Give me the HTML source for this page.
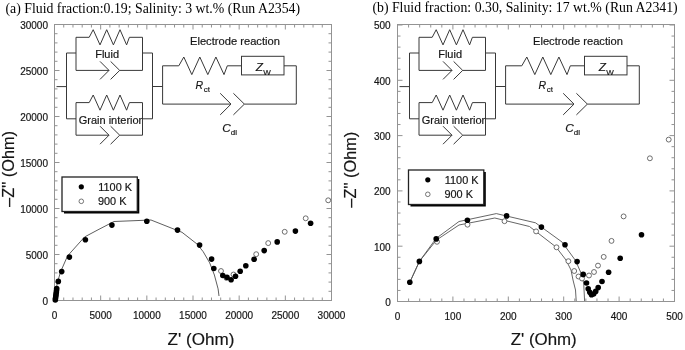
<!DOCTYPE html>
<html><head><meta charset="utf-8"><style>
html,body{margin:0;padding:0;background:#fff;}
body{width:685px;height:350px;overflow:hidden;position:relative;}
svg{position:absolute;left:0;top:0;filter:blur(0.35px);}
text{fill:#151515;stroke:#151515;stroke-width:0.18px;}
</style></head><body>
<svg width="685" height="350" viewBox="0 0 685 350">
<rect x="54.5" y="24.5" width="277.0" height="276.0" fill="none" stroke="#939393" stroke-width="1"/>
<line x1="54.50" y1="300.50" x2="54.50" y2="295.50" stroke="#939393" stroke-width="1"/>
<line x1="54.50" y1="24.50" x2="54.50" y2="29.50" stroke="#939393" stroke-width="1"/>
<line x1="63.73" y1="300.50" x2="63.73" y2="297.50" stroke="#939393" stroke-width="1"/>
<line x1="63.73" y1="24.50" x2="63.73" y2="27.50" stroke="#939393" stroke-width="1"/>
<line x1="72.97" y1="300.50" x2="72.97" y2="297.50" stroke="#939393" stroke-width="1"/>
<line x1="72.97" y1="24.50" x2="72.97" y2="27.50" stroke="#939393" stroke-width="1"/>
<line x1="82.20" y1="300.50" x2="82.20" y2="297.50" stroke="#939393" stroke-width="1"/>
<line x1="82.20" y1="24.50" x2="82.20" y2="27.50" stroke="#939393" stroke-width="1"/>
<line x1="91.43" y1="300.50" x2="91.43" y2="297.50" stroke="#939393" stroke-width="1"/>
<line x1="91.43" y1="24.50" x2="91.43" y2="27.50" stroke="#939393" stroke-width="1"/>
<line x1="100.67" y1="300.50" x2="100.67" y2="295.50" stroke="#939393" stroke-width="1"/>
<line x1="100.67" y1="24.50" x2="100.67" y2="29.50" stroke="#939393" stroke-width="1"/>
<line x1="109.90" y1="300.50" x2="109.90" y2="297.50" stroke="#939393" stroke-width="1"/>
<line x1="109.90" y1="24.50" x2="109.90" y2="27.50" stroke="#939393" stroke-width="1"/>
<line x1="119.13" y1="300.50" x2="119.13" y2="297.50" stroke="#939393" stroke-width="1"/>
<line x1="119.13" y1="24.50" x2="119.13" y2="27.50" stroke="#939393" stroke-width="1"/>
<line x1="128.37" y1="300.50" x2="128.37" y2="297.50" stroke="#939393" stroke-width="1"/>
<line x1="128.37" y1="24.50" x2="128.37" y2="27.50" stroke="#939393" stroke-width="1"/>
<line x1="137.60" y1="300.50" x2="137.60" y2="297.50" stroke="#939393" stroke-width="1"/>
<line x1="137.60" y1="24.50" x2="137.60" y2="27.50" stroke="#939393" stroke-width="1"/>
<line x1="146.83" y1="300.50" x2="146.83" y2="295.50" stroke="#939393" stroke-width="1"/>
<line x1="146.83" y1="24.50" x2="146.83" y2="29.50" stroke="#939393" stroke-width="1"/>
<line x1="156.07" y1="300.50" x2="156.07" y2="297.50" stroke="#939393" stroke-width="1"/>
<line x1="156.07" y1="24.50" x2="156.07" y2="27.50" stroke="#939393" stroke-width="1"/>
<line x1="165.30" y1="300.50" x2="165.30" y2="297.50" stroke="#939393" stroke-width="1"/>
<line x1="165.30" y1="24.50" x2="165.30" y2="27.50" stroke="#939393" stroke-width="1"/>
<line x1="174.53" y1="300.50" x2="174.53" y2="297.50" stroke="#939393" stroke-width="1"/>
<line x1="174.53" y1="24.50" x2="174.53" y2="27.50" stroke="#939393" stroke-width="1"/>
<line x1="183.77" y1="300.50" x2="183.77" y2="297.50" stroke="#939393" stroke-width="1"/>
<line x1="183.77" y1="24.50" x2="183.77" y2="27.50" stroke="#939393" stroke-width="1"/>
<line x1="193.00" y1="300.50" x2="193.00" y2="295.50" stroke="#939393" stroke-width="1"/>
<line x1="193.00" y1="24.50" x2="193.00" y2="29.50" stroke="#939393" stroke-width="1"/>
<line x1="202.23" y1="300.50" x2="202.23" y2="297.50" stroke="#939393" stroke-width="1"/>
<line x1="202.23" y1="24.50" x2="202.23" y2="27.50" stroke="#939393" stroke-width="1"/>
<line x1="211.47" y1="300.50" x2="211.47" y2="297.50" stroke="#939393" stroke-width="1"/>
<line x1="211.47" y1="24.50" x2="211.47" y2="27.50" stroke="#939393" stroke-width="1"/>
<line x1="220.70" y1="300.50" x2="220.70" y2="297.50" stroke="#939393" stroke-width="1"/>
<line x1="220.70" y1="24.50" x2="220.70" y2="27.50" stroke="#939393" stroke-width="1"/>
<line x1="229.93" y1="300.50" x2="229.93" y2="297.50" stroke="#939393" stroke-width="1"/>
<line x1="229.93" y1="24.50" x2="229.93" y2="27.50" stroke="#939393" stroke-width="1"/>
<line x1="239.17" y1="300.50" x2="239.17" y2="295.50" stroke="#939393" stroke-width="1"/>
<line x1="239.17" y1="24.50" x2="239.17" y2="29.50" stroke="#939393" stroke-width="1"/>
<line x1="248.40" y1="300.50" x2="248.40" y2="297.50" stroke="#939393" stroke-width="1"/>
<line x1="248.40" y1="24.50" x2="248.40" y2="27.50" stroke="#939393" stroke-width="1"/>
<line x1="257.63" y1="300.50" x2="257.63" y2="297.50" stroke="#939393" stroke-width="1"/>
<line x1="257.63" y1="24.50" x2="257.63" y2="27.50" stroke="#939393" stroke-width="1"/>
<line x1="266.87" y1="300.50" x2="266.87" y2="297.50" stroke="#939393" stroke-width="1"/>
<line x1="266.87" y1="24.50" x2="266.87" y2="27.50" stroke="#939393" stroke-width="1"/>
<line x1="276.10" y1="300.50" x2="276.10" y2="297.50" stroke="#939393" stroke-width="1"/>
<line x1="276.10" y1="24.50" x2="276.10" y2="27.50" stroke="#939393" stroke-width="1"/>
<line x1="285.33" y1="300.50" x2="285.33" y2="295.50" stroke="#939393" stroke-width="1"/>
<line x1="285.33" y1="24.50" x2="285.33" y2="29.50" stroke="#939393" stroke-width="1"/>
<line x1="294.57" y1="300.50" x2="294.57" y2="297.50" stroke="#939393" stroke-width="1"/>
<line x1="294.57" y1="24.50" x2="294.57" y2="27.50" stroke="#939393" stroke-width="1"/>
<line x1="303.80" y1="300.50" x2="303.80" y2="297.50" stroke="#939393" stroke-width="1"/>
<line x1="303.80" y1="24.50" x2="303.80" y2="27.50" stroke="#939393" stroke-width="1"/>
<line x1="313.03" y1="300.50" x2="313.03" y2="297.50" stroke="#939393" stroke-width="1"/>
<line x1="313.03" y1="24.50" x2="313.03" y2="27.50" stroke="#939393" stroke-width="1"/>
<line x1="322.27" y1="300.50" x2="322.27" y2="297.50" stroke="#939393" stroke-width="1"/>
<line x1="322.27" y1="24.50" x2="322.27" y2="27.50" stroke="#939393" stroke-width="1"/>
<line x1="331.50" y1="300.50" x2="331.50" y2="295.50" stroke="#939393" stroke-width="1"/>
<line x1="331.50" y1="24.50" x2="331.50" y2="29.50" stroke="#939393" stroke-width="1"/>
<line x1="54.50" y1="300.50" x2="59.50" y2="300.50" stroke="#939393" stroke-width="1"/>
<line x1="331.50" y1="300.50" x2="326.50" y2="300.50" stroke="#939393" stroke-width="1"/>
<line x1="54.50" y1="291.30" x2="57.50" y2="291.30" stroke="#939393" stroke-width="1"/>
<line x1="331.50" y1="291.30" x2="328.50" y2="291.30" stroke="#939393" stroke-width="1"/>
<line x1="54.50" y1="282.10" x2="57.50" y2="282.10" stroke="#939393" stroke-width="1"/>
<line x1="331.50" y1="282.10" x2="328.50" y2="282.10" stroke="#939393" stroke-width="1"/>
<line x1="54.50" y1="272.90" x2="57.50" y2="272.90" stroke="#939393" stroke-width="1"/>
<line x1="331.50" y1="272.90" x2="328.50" y2="272.90" stroke="#939393" stroke-width="1"/>
<line x1="54.50" y1="263.70" x2="57.50" y2="263.70" stroke="#939393" stroke-width="1"/>
<line x1="331.50" y1="263.70" x2="328.50" y2="263.70" stroke="#939393" stroke-width="1"/>
<line x1="54.50" y1="254.50" x2="59.50" y2="254.50" stroke="#939393" stroke-width="1"/>
<line x1="331.50" y1="254.50" x2="326.50" y2="254.50" stroke="#939393" stroke-width="1"/>
<line x1="54.50" y1="245.30" x2="57.50" y2="245.30" stroke="#939393" stroke-width="1"/>
<line x1="331.50" y1="245.30" x2="328.50" y2="245.30" stroke="#939393" stroke-width="1"/>
<line x1="54.50" y1="236.10" x2="57.50" y2="236.10" stroke="#939393" stroke-width="1"/>
<line x1="331.50" y1="236.10" x2="328.50" y2="236.10" stroke="#939393" stroke-width="1"/>
<line x1="54.50" y1="226.90" x2="57.50" y2="226.90" stroke="#939393" stroke-width="1"/>
<line x1="331.50" y1="226.90" x2="328.50" y2="226.90" stroke="#939393" stroke-width="1"/>
<line x1="54.50" y1="217.70" x2="57.50" y2="217.70" stroke="#939393" stroke-width="1"/>
<line x1="331.50" y1="217.70" x2="328.50" y2="217.70" stroke="#939393" stroke-width="1"/>
<line x1="54.50" y1="208.50" x2="59.50" y2="208.50" stroke="#939393" stroke-width="1"/>
<line x1="331.50" y1="208.50" x2="326.50" y2="208.50" stroke="#939393" stroke-width="1"/>
<line x1="54.50" y1="199.30" x2="57.50" y2="199.30" stroke="#939393" stroke-width="1"/>
<line x1="331.50" y1="199.30" x2="328.50" y2="199.30" stroke="#939393" stroke-width="1"/>
<line x1="54.50" y1="190.10" x2="57.50" y2="190.10" stroke="#939393" stroke-width="1"/>
<line x1="331.50" y1="190.10" x2="328.50" y2="190.10" stroke="#939393" stroke-width="1"/>
<line x1="54.50" y1="180.90" x2="57.50" y2="180.90" stroke="#939393" stroke-width="1"/>
<line x1="331.50" y1="180.90" x2="328.50" y2="180.90" stroke="#939393" stroke-width="1"/>
<line x1="54.50" y1="171.70" x2="57.50" y2="171.70" stroke="#939393" stroke-width="1"/>
<line x1="331.50" y1="171.70" x2="328.50" y2="171.70" stroke="#939393" stroke-width="1"/>
<line x1="54.50" y1="162.50" x2="59.50" y2="162.50" stroke="#939393" stroke-width="1"/>
<line x1="331.50" y1="162.50" x2="326.50" y2="162.50" stroke="#939393" stroke-width="1"/>
<line x1="54.50" y1="153.30" x2="57.50" y2="153.30" stroke="#939393" stroke-width="1"/>
<line x1="331.50" y1="153.30" x2="328.50" y2="153.30" stroke="#939393" stroke-width="1"/>
<line x1="54.50" y1="144.10" x2="57.50" y2="144.10" stroke="#939393" stroke-width="1"/>
<line x1="331.50" y1="144.10" x2="328.50" y2="144.10" stroke="#939393" stroke-width="1"/>
<line x1="54.50" y1="134.90" x2="57.50" y2="134.90" stroke="#939393" stroke-width="1"/>
<line x1="331.50" y1="134.90" x2="328.50" y2="134.90" stroke="#939393" stroke-width="1"/>
<line x1="54.50" y1="125.70" x2="57.50" y2="125.70" stroke="#939393" stroke-width="1"/>
<line x1="331.50" y1="125.70" x2="328.50" y2="125.70" stroke="#939393" stroke-width="1"/>
<line x1="54.50" y1="116.50" x2="59.50" y2="116.50" stroke="#939393" stroke-width="1"/>
<line x1="331.50" y1="116.50" x2="326.50" y2="116.50" stroke="#939393" stroke-width="1"/>
<line x1="54.50" y1="107.30" x2="57.50" y2="107.30" stroke="#939393" stroke-width="1"/>
<line x1="331.50" y1="107.30" x2="328.50" y2="107.30" stroke="#939393" stroke-width="1"/>
<line x1="54.50" y1="98.10" x2="57.50" y2="98.10" stroke="#939393" stroke-width="1"/>
<line x1="331.50" y1="98.10" x2="328.50" y2="98.10" stroke="#939393" stroke-width="1"/>
<line x1="54.50" y1="88.90" x2="57.50" y2="88.90" stroke="#939393" stroke-width="1"/>
<line x1="331.50" y1="88.90" x2="328.50" y2="88.90" stroke="#939393" stroke-width="1"/>
<line x1="54.50" y1="79.70" x2="57.50" y2="79.70" stroke="#939393" stroke-width="1"/>
<line x1="331.50" y1="79.70" x2="328.50" y2="79.70" stroke="#939393" stroke-width="1"/>
<line x1="54.50" y1="70.50" x2="59.50" y2="70.50" stroke="#939393" stroke-width="1"/>
<line x1="331.50" y1="70.50" x2="326.50" y2="70.50" stroke="#939393" stroke-width="1"/>
<line x1="54.50" y1="61.30" x2="57.50" y2="61.30" stroke="#939393" stroke-width="1"/>
<line x1="331.50" y1="61.30" x2="328.50" y2="61.30" stroke="#939393" stroke-width="1"/>
<line x1="54.50" y1="52.10" x2="57.50" y2="52.10" stroke="#939393" stroke-width="1"/>
<line x1="331.50" y1="52.10" x2="328.50" y2="52.10" stroke="#939393" stroke-width="1"/>
<line x1="54.50" y1="42.90" x2="57.50" y2="42.90" stroke="#939393" stroke-width="1"/>
<line x1="331.50" y1="42.90" x2="328.50" y2="42.90" stroke="#939393" stroke-width="1"/>
<line x1="54.50" y1="33.70" x2="57.50" y2="33.70" stroke="#939393" stroke-width="1"/>
<line x1="331.50" y1="33.70" x2="328.50" y2="33.70" stroke="#939393" stroke-width="1"/>
<line x1="54.50" y1="24.50" x2="59.50" y2="24.50" stroke="#939393" stroke-width="1"/>
<line x1="331.50" y1="24.50" x2="326.50" y2="24.50" stroke="#939393" stroke-width="1"/>
<rect x="397.5" y="24.5" width="277.0" height="277.0" fill="none" stroke="#939393" stroke-width="1"/>
<line x1="397.50" y1="301.50" x2="397.50" y2="296.50" stroke="#939393" stroke-width="1"/>
<line x1="397.50" y1="24.50" x2="397.50" y2="29.50" stroke="#939393" stroke-width="1"/>
<line x1="408.58" y1="301.50" x2="408.58" y2="298.50" stroke="#939393" stroke-width="1"/>
<line x1="408.58" y1="24.50" x2="408.58" y2="27.50" stroke="#939393" stroke-width="1"/>
<line x1="419.66" y1="301.50" x2="419.66" y2="298.50" stroke="#939393" stroke-width="1"/>
<line x1="419.66" y1="24.50" x2="419.66" y2="27.50" stroke="#939393" stroke-width="1"/>
<line x1="430.74" y1="301.50" x2="430.74" y2="298.50" stroke="#939393" stroke-width="1"/>
<line x1="430.74" y1="24.50" x2="430.74" y2="27.50" stroke="#939393" stroke-width="1"/>
<line x1="441.82" y1="301.50" x2="441.82" y2="298.50" stroke="#939393" stroke-width="1"/>
<line x1="441.82" y1="24.50" x2="441.82" y2="27.50" stroke="#939393" stroke-width="1"/>
<line x1="452.90" y1="301.50" x2="452.90" y2="296.50" stroke="#939393" stroke-width="1"/>
<line x1="452.90" y1="24.50" x2="452.90" y2="29.50" stroke="#939393" stroke-width="1"/>
<line x1="463.98" y1="301.50" x2="463.98" y2="298.50" stroke="#939393" stroke-width="1"/>
<line x1="463.98" y1="24.50" x2="463.98" y2="27.50" stroke="#939393" stroke-width="1"/>
<line x1="475.06" y1="301.50" x2="475.06" y2="298.50" stroke="#939393" stroke-width="1"/>
<line x1="475.06" y1="24.50" x2="475.06" y2="27.50" stroke="#939393" stroke-width="1"/>
<line x1="486.14" y1="301.50" x2="486.14" y2="298.50" stroke="#939393" stroke-width="1"/>
<line x1="486.14" y1="24.50" x2="486.14" y2="27.50" stroke="#939393" stroke-width="1"/>
<line x1="497.22" y1="301.50" x2="497.22" y2="298.50" stroke="#939393" stroke-width="1"/>
<line x1="497.22" y1="24.50" x2="497.22" y2="27.50" stroke="#939393" stroke-width="1"/>
<line x1="508.30" y1="301.50" x2="508.30" y2="296.50" stroke="#939393" stroke-width="1"/>
<line x1="508.30" y1="24.50" x2="508.30" y2="29.50" stroke="#939393" stroke-width="1"/>
<line x1="519.38" y1="301.50" x2="519.38" y2="298.50" stroke="#939393" stroke-width="1"/>
<line x1="519.38" y1="24.50" x2="519.38" y2="27.50" stroke="#939393" stroke-width="1"/>
<line x1="530.46" y1="301.50" x2="530.46" y2="298.50" stroke="#939393" stroke-width="1"/>
<line x1="530.46" y1="24.50" x2="530.46" y2="27.50" stroke="#939393" stroke-width="1"/>
<line x1="541.54" y1="301.50" x2="541.54" y2="298.50" stroke="#939393" stroke-width="1"/>
<line x1="541.54" y1="24.50" x2="541.54" y2="27.50" stroke="#939393" stroke-width="1"/>
<line x1="552.62" y1="301.50" x2="552.62" y2="298.50" stroke="#939393" stroke-width="1"/>
<line x1="552.62" y1="24.50" x2="552.62" y2="27.50" stroke="#939393" stroke-width="1"/>
<line x1="563.70" y1="301.50" x2="563.70" y2="296.50" stroke="#939393" stroke-width="1"/>
<line x1="563.70" y1="24.50" x2="563.70" y2="29.50" stroke="#939393" stroke-width="1"/>
<line x1="574.78" y1="301.50" x2="574.78" y2="298.50" stroke="#939393" stroke-width="1"/>
<line x1="574.78" y1="24.50" x2="574.78" y2="27.50" stroke="#939393" stroke-width="1"/>
<line x1="585.86" y1="301.50" x2="585.86" y2="298.50" stroke="#939393" stroke-width="1"/>
<line x1="585.86" y1="24.50" x2="585.86" y2="27.50" stroke="#939393" stroke-width="1"/>
<line x1="596.94" y1="301.50" x2="596.94" y2="298.50" stroke="#939393" stroke-width="1"/>
<line x1="596.94" y1="24.50" x2="596.94" y2="27.50" stroke="#939393" stroke-width="1"/>
<line x1="608.02" y1="301.50" x2="608.02" y2="298.50" stroke="#939393" stroke-width="1"/>
<line x1="608.02" y1="24.50" x2="608.02" y2="27.50" stroke="#939393" stroke-width="1"/>
<line x1="619.10" y1="301.50" x2="619.10" y2="296.50" stroke="#939393" stroke-width="1"/>
<line x1="619.10" y1="24.50" x2="619.10" y2="29.50" stroke="#939393" stroke-width="1"/>
<line x1="630.18" y1="301.50" x2="630.18" y2="298.50" stroke="#939393" stroke-width="1"/>
<line x1="630.18" y1="24.50" x2="630.18" y2="27.50" stroke="#939393" stroke-width="1"/>
<line x1="641.26" y1="301.50" x2="641.26" y2="298.50" stroke="#939393" stroke-width="1"/>
<line x1="641.26" y1="24.50" x2="641.26" y2="27.50" stroke="#939393" stroke-width="1"/>
<line x1="652.34" y1="301.50" x2="652.34" y2="298.50" stroke="#939393" stroke-width="1"/>
<line x1="652.34" y1="24.50" x2="652.34" y2="27.50" stroke="#939393" stroke-width="1"/>
<line x1="663.42" y1="301.50" x2="663.42" y2="298.50" stroke="#939393" stroke-width="1"/>
<line x1="663.42" y1="24.50" x2="663.42" y2="27.50" stroke="#939393" stroke-width="1"/>
<line x1="674.50" y1="301.50" x2="674.50" y2="296.50" stroke="#939393" stroke-width="1"/>
<line x1="674.50" y1="24.50" x2="674.50" y2="29.50" stroke="#939393" stroke-width="1"/>
<line x1="397.50" y1="301.50" x2="402.50" y2="301.50" stroke="#939393" stroke-width="1"/>
<line x1="674.50" y1="301.50" x2="669.50" y2="301.50" stroke="#939393" stroke-width="1"/>
<line x1="397.50" y1="290.44" x2="400.50" y2="290.44" stroke="#939393" stroke-width="1"/>
<line x1="674.50" y1="290.44" x2="671.50" y2="290.44" stroke="#939393" stroke-width="1"/>
<line x1="397.50" y1="279.38" x2="400.50" y2="279.38" stroke="#939393" stroke-width="1"/>
<line x1="674.50" y1="279.38" x2="671.50" y2="279.38" stroke="#939393" stroke-width="1"/>
<line x1="397.50" y1="268.32" x2="400.50" y2="268.32" stroke="#939393" stroke-width="1"/>
<line x1="674.50" y1="268.32" x2="671.50" y2="268.32" stroke="#939393" stroke-width="1"/>
<line x1="397.50" y1="257.26" x2="400.50" y2="257.26" stroke="#939393" stroke-width="1"/>
<line x1="674.50" y1="257.26" x2="671.50" y2="257.26" stroke="#939393" stroke-width="1"/>
<line x1="397.50" y1="246.20" x2="402.50" y2="246.20" stroke="#939393" stroke-width="1"/>
<line x1="674.50" y1="246.20" x2="669.50" y2="246.20" stroke="#939393" stroke-width="1"/>
<line x1="397.50" y1="235.14" x2="400.50" y2="235.14" stroke="#939393" stroke-width="1"/>
<line x1="674.50" y1="235.14" x2="671.50" y2="235.14" stroke="#939393" stroke-width="1"/>
<line x1="397.50" y1="224.08" x2="400.50" y2="224.08" stroke="#939393" stroke-width="1"/>
<line x1="674.50" y1="224.08" x2="671.50" y2="224.08" stroke="#939393" stroke-width="1"/>
<line x1="397.50" y1="213.02" x2="400.50" y2="213.02" stroke="#939393" stroke-width="1"/>
<line x1="674.50" y1="213.02" x2="671.50" y2="213.02" stroke="#939393" stroke-width="1"/>
<line x1="397.50" y1="201.96" x2="400.50" y2="201.96" stroke="#939393" stroke-width="1"/>
<line x1="674.50" y1="201.96" x2="671.50" y2="201.96" stroke="#939393" stroke-width="1"/>
<line x1="397.50" y1="190.90" x2="402.50" y2="190.90" stroke="#939393" stroke-width="1"/>
<line x1="674.50" y1="190.90" x2="669.50" y2="190.90" stroke="#939393" stroke-width="1"/>
<line x1="397.50" y1="179.84" x2="400.50" y2="179.84" stroke="#939393" stroke-width="1"/>
<line x1="674.50" y1="179.84" x2="671.50" y2="179.84" stroke="#939393" stroke-width="1"/>
<line x1="397.50" y1="168.78" x2="400.50" y2="168.78" stroke="#939393" stroke-width="1"/>
<line x1="674.50" y1="168.78" x2="671.50" y2="168.78" stroke="#939393" stroke-width="1"/>
<line x1="397.50" y1="157.72" x2="400.50" y2="157.72" stroke="#939393" stroke-width="1"/>
<line x1="674.50" y1="157.72" x2="671.50" y2="157.72" stroke="#939393" stroke-width="1"/>
<line x1="397.50" y1="146.66" x2="400.50" y2="146.66" stroke="#939393" stroke-width="1"/>
<line x1="674.50" y1="146.66" x2="671.50" y2="146.66" stroke="#939393" stroke-width="1"/>
<line x1="397.50" y1="135.60" x2="402.50" y2="135.60" stroke="#939393" stroke-width="1"/>
<line x1="674.50" y1="135.60" x2="669.50" y2="135.60" stroke="#939393" stroke-width="1"/>
<line x1="397.50" y1="124.54" x2="400.50" y2="124.54" stroke="#939393" stroke-width="1"/>
<line x1="674.50" y1="124.54" x2="671.50" y2="124.54" stroke="#939393" stroke-width="1"/>
<line x1="397.50" y1="113.48" x2="400.50" y2="113.48" stroke="#939393" stroke-width="1"/>
<line x1="674.50" y1="113.48" x2="671.50" y2="113.48" stroke="#939393" stroke-width="1"/>
<line x1="397.50" y1="102.42" x2="400.50" y2="102.42" stroke="#939393" stroke-width="1"/>
<line x1="674.50" y1="102.42" x2="671.50" y2="102.42" stroke="#939393" stroke-width="1"/>
<line x1="397.50" y1="91.36" x2="400.50" y2="91.36" stroke="#939393" stroke-width="1"/>
<line x1="674.50" y1="91.36" x2="671.50" y2="91.36" stroke="#939393" stroke-width="1"/>
<line x1="397.50" y1="80.30" x2="402.50" y2="80.30" stroke="#939393" stroke-width="1"/>
<line x1="674.50" y1="80.30" x2="669.50" y2="80.30" stroke="#939393" stroke-width="1"/>
<line x1="397.50" y1="69.24" x2="400.50" y2="69.24" stroke="#939393" stroke-width="1"/>
<line x1="674.50" y1="69.24" x2="671.50" y2="69.24" stroke="#939393" stroke-width="1"/>
<line x1="397.50" y1="58.18" x2="400.50" y2="58.18" stroke="#939393" stroke-width="1"/>
<line x1="674.50" y1="58.18" x2="671.50" y2="58.18" stroke="#939393" stroke-width="1"/>
<line x1="397.50" y1="47.12" x2="400.50" y2="47.12" stroke="#939393" stroke-width="1"/>
<line x1="674.50" y1="47.12" x2="671.50" y2="47.12" stroke="#939393" stroke-width="1"/>
<line x1="397.50" y1="36.06" x2="400.50" y2="36.06" stroke="#939393" stroke-width="1"/>
<line x1="674.50" y1="36.06" x2="671.50" y2="36.06" stroke="#939393" stroke-width="1"/>
<line x1="397.50" y1="25.00" x2="402.50" y2="25.00" stroke="#939393" stroke-width="1"/>
<line x1="674.50" y1="25.00" x2="669.50" y2="25.00" stroke="#939393" stroke-width="1"/>
<text x="48" y="304.5" font-size="10" text-anchor="end" font-family="Liberation Sans" >0</text>
<text x="54.5" y="319.0" font-size="10" text-anchor="middle" font-family="Liberation Sans" >0</text>
<text x="48" y="258.5" font-size="10" text-anchor="end" font-family="Liberation Sans" >5000</text>
<text x="100.66666666666666" y="319.0" font-size="10" text-anchor="middle" font-family="Liberation Sans" >5000</text>
<text x="48" y="212.5" font-size="10" text-anchor="end" font-family="Liberation Sans" >10000</text>
<text x="146.83333333333331" y="319.0" font-size="10" text-anchor="middle" font-family="Liberation Sans" >10000</text>
<text x="48" y="166.5" font-size="10" text-anchor="end" font-family="Liberation Sans" >15000</text>
<text x="193.0" y="319.0" font-size="10" text-anchor="middle" font-family="Liberation Sans" >15000</text>
<text x="48" y="120.5" font-size="10" text-anchor="end" font-family="Liberation Sans" >20000</text>
<text x="239.16666666666666" y="319.0" font-size="10" text-anchor="middle" font-family="Liberation Sans" >20000</text>
<text x="48" y="74.5" font-size="10" text-anchor="end" font-family="Liberation Sans" >25000</text>
<text x="285.33333333333337" y="319.0" font-size="10" text-anchor="middle" font-family="Liberation Sans" >25000</text>
<text x="48" y="28.5" font-size="10" text-anchor="end" font-family="Liberation Sans" >30000</text>
<text x="331.5" y="319.0" font-size="10" text-anchor="middle" font-family="Liberation Sans" >30000</text>
<text x="390.7" y="305.9" font-size="10" text-anchor="end" font-family="Liberation Sans" >0</text>
<text x="397.5" y="320.3" font-size="10" text-anchor="middle" font-family="Liberation Sans" >0</text>
<text x="390.7" y="250.6" font-size="10" text-anchor="end" font-family="Liberation Sans" >100</text>
<text x="452.9" y="320.3" font-size="10" text-anchor="middle" font-family="Liberation Sans" >100</text>
<text x="390.7" y="195.3" font-size="10" text-anchor="end" font-family="Liberation Sans" >200</text>
<text x="508.3" y="320.3" font-size="10" text-anchor="middle" font-family="Liberation Sans" >200</text>
<text x="390.7" y="140.00000000000003" font-size="10" text-anchor="end" font-family="Liberation Sans" >300</text>
<text x="563.7" y="320.3" font-size="10" text-anchor="middle" font-family="Liberation Sans" >300</text>
<text x="390.7" y="84.70000000000002" font-size="10" text-anchor="end" font-family="Liberation Sans" >400</text>
<text x="619.1" y="320.3" font-size="10" text-anchor="middle" font-family="Liberation Sans" >400</text>
<text x="390.7" y="29.4" font-size="10" text-anchor="end" font-family="Liberation Sans" >500</text>
<text x="674.5" y="320.3" font-size="10" text-anchor="middle" font-family="Liberation Sans" >500</text>
<polyline points="56.50,86.60 66.50,86.60" fill="none" stroke="#383838" stroke-width="1" stroke-linejoin="miter"/>
<polyline points="66.50,53.00 66.50,118.80" fill="none" stroke="#383838" stroke-width="1" stroke-linejoin="miter"/>
<polyline points="66.50,53.00 76.00,53.00" fill="none" stroke="#383838" stroke-width="1" stroke-linejoin="miter"/>
<polyline points="66.50,118.80 76.00,118.80" fill="none" stroke="#383838" stroke-width="1" stroke-linejoin="miter"/>
<polyline points="76.00,37.30 76.00,70.40" fill="none" stroke="#383838" stroke-width="1" stroke-linejoin="miter"/>
<polyline points="142.50,37.30 142.50,70.40" fill="none" stroke="#383838" stroke-width="1" stroke-linejoin="miter"/>
<polyline points="76.00,37.30 89.20,37.30 93.20,29.70 93.20,29.70 100.00,44.90 106.70,29.70 113.40,44.90 120.00,29.70 126.60,44.90 129.40,37.30 142.50,37.30" fill="none" stroke="#383838" stroke-width="1" stroke-linejoin="miter"/>
<polyline points="76.00,70.40 109.00,70.40" fill="none" stroke="#383838" stroke-width="1" stroke-linejoin="miter"/>
<polyline points="100.00,61.40 109.00,70.40 100.00,79.40" fill="none" stroke="#383838" stroke-width="1" stroke-linejoin="miter"/>
<polyline points="110.60,61.40 119.70,70.40 110.60,79.40" fill="none" stroke="#383838" stroke-width="1" stroke-linejoin="miter"/>
<polyline points="119.70,70.40 142.50,70.40" fill="none" stroke="#383838" stroke-width="1" stroke-linejoin="miter"/>
<polyline points="76.00,102.60 76.00,135.20" fill="none" stroke="#383838" stroke-width="1" stroke-linejoin="miter"/>
<polyline points="142.50,102.60 142.50,135.20" fill="none" stroke="#383838" stroke-width="1" stroke-linejoin="miter"/>
<polyline points="76.00,102.60 89.20,102.60 93.20,95.00 93.20,95.00 100.00,110.20 106.70,95.00 113.40,110.20 120.00,95.00 126.60,110.20 129.40,102.60 142.50,102.60" fill="none" stroke="#383838" stroke-width="1" stroke-linejoin="miter"/>
<polyline points="76.00,135.20 109.00,135.20" fill="none" stroke="#383838" stroke-width="1" stroke-linejoin="miter"/>
<polyline points="100.00,126.20 109.00,135.20 100.00,144.20" fill="none" stroke="#383838" stroke-width="1" stroke-linejoin="miter"/>
<polyline points="110.60,126.20 119.70,135.20 110.60,144.20" fill="none" stroke="#383838" stroke-width="1" stroke-linejoin="miter"/>
<polyline points="119.70,135.20 142.50,135.20" fill="none" stroke="#383838" stroke-width="1" stroke-linejoin="miter"/>
<polyline points="142.50,53.00 152.50,53.00" fill="none" stroke="#383838" stroke-width="1" stroke-linejoin="miter"/>
<polyline points="142.50,118.80 152.50,118.80" fill="none" stroke="#383838" stroke-width="1" stroke-linejoin="miter"/>
<polyline points="152.50,53.00 152.50,118.80" fill="none" stroke="#383838" stroke-width="1" stroke-linejoin="miter"/>
<polyline points="152.50,86.50 162.60,86.50" fill="none" stroke="#383838" stroke-width="1" stroke-linejoin="miter"/>
<polyline points="162.60,65.80 162.60,104.10" fill="none" stroke="#383838" stroke-width="1" stroke-linejoin="miter"/>
<polyline points="162.60,65.80 178.80,65.80 183.80,57.00 183.80,57.00 191.80,74.60 199.80,57.00 207.80,74.60 215.90,57.00 224.00,74.60 227.30,65.80 241.50,65.80" fill="none" stroke="#383838" stroke-width="1" stroke-linejoin="miter"/>
<rect x="241.5" y="56.3" width="42.5" height="18.6" fill="none" stroke="#383838" stroke-width="1"/>
<polyline points="284.00,65.80 296.30,65.80 296.30,104.10 244.40,104.10" fill="none" stroke="#383838" stroke-width="1" stroke-linejoin="miter"/>
<polyline points="162.60,104.10 231.00,104.10" fill="none" stroke="#383838" stroke-width="1" stroke-linejoin="miter"/>
<polyline points="220.20,93.30 231.00,104.10 220.20,114.90" fill="none" stroke="#383838" stroke-width="1" stroke-linejoin="miter"/>
<polyline points="233.40,93.30 244.40,104.10 233.40,114.90" fill="none" stroke="#383838" stroke-width="1" stroke-linejoin="miter"/>
<text x="95.2" y="57.9" font-size="10.8" text-anchor="start" font-family="Liberation Sans" textLength="23.8" lengthAdjust="spacingAndGlyphs">Fluid</text>
<text x="78.7" y="123.6" font-size="10.8" text-anchor="start" font-family="Liberation Sans" textLength="63.6" lengthAdjust="spacingAndGlyphs">Grain interior</text>
<text x="190.0" y="45.1" font-size="10.8" text-anchor="start" font-family="Liberation Sans" textLength="89.9" lengthAdjust="spacingAndGlyphs">Electrode reaction</text>
<text x="195.4" y="88.7" font-size="11.8" text-anchor="start" font-family="Liberation Sans" ><tspan font-style="italic" font-size="11.8" textLength="7.6" lengthAdjust="spacingAndGlyphs">R</tspan><tspan font-size="8" dx="0.8" dy="3.3">ct</tspan></text>
<text x="255.8" y="71.3" font-size="11.8" text-anchor="start" font-family="Liberation Sans" ><tspan font-style="italic" font-size="11.8">Z</tspan><tspan font-size="8" dx="0.3" dy="3.5">W</tspan></text>
<text x="222.2" y="131.8" font-size="11.8" text-anchor="start" font-family="Liberation Sans" ><tspan font-style="italic" font-size="11.8">C</tspan><tspan font-size="8" dy="3.3">dl</tspan></text>
<polyline points="399.50,86.60 409.50,86.60" fill="none" stroke="#383838" stroke-width="1" stroke-linejoin="miter"/>
<polyline points="409.50,53.00 409.50,118.80" fill="none" stroke="#383838" stroke-width="1" stroke-linejoin="miter"/>
<polyline points="409.50,53.00 419.00,53.00" fill="none" stroke="#383838" stroke-width="1" stroke-linejoin="miter"/>
<polyline points="409.50,118.80 419.00,118.80" fill="none" stroke="#383838" stroke-width="1" stroke-linejoin="miter"/>
<polyline points="419.00,37.30 419.00,70.40" fill="none" stroke="#383838" stroke-width="1" stroke-linejoin="miter"/>
<polyline points="485.50,37.30 485.50,70.40" fill="none" stroke="#383838" stroke-width="1" stroke-linejoin="miter"/>
<polyline points="419.00,37.30 432.20,37.30 436.20,29.70 436.20,29.70 443.00,44.90 449.70,29.70 456.40,44.90 463.00,29.70 469.60,44.90 472.40,37.30 485.50,37.30" fill="none" stroke="#383838" stroke-width="1" stroke-linejoin="miter"/>
<polyline points="419.00,70.40 452.00,70.40" fill="none" stroke="#383838" stroke-width="1" stroke-linejoin="miter"/>
<polyline points="443.00,61.40 452.00,70.40 443.00,79.40" fill="none" stroke="#383838" stroke-width="1" stroke-linejoin="miter"/>
<polyline points="453.60,61.40 462.70,70.40 453.60,79.40" fill="none" stroke="#383838" stroke-width="1" stroke-linejoin="miter"/>
<polyline points="462.70,70.40 485.50,70.40" fill="none" stroke="#383838" stroke-width="1" stroke-linejoin="miter"/>
<polyline points="419.00,102.60 419.00,135.20" fill="none" stroke="#383838" stroke-width="1" stroke-linejoin="miter"/>
<polyline points="485.50,102.60 485.50,135.20" fill="none" stroke="#383838" stroke-width="1" stroke-linejoin="miter"/>
<polyline points="419.00,102.60 432.20,102.60 436.20,95.00 436.20,95.00 443.00,110.20 449.70,95.00 456.40,110.20 463.00,95.00 469.60,110.20 472.40,102.60 485.50,102.60" fill="none" stroke="#383838" stroke-width="1" stroke-linejoin="miter"/>
<polyline points="419.00,135.20 452.00,135.20" fill="none" stroke="#383838" stroke-width="1" stroke-linejoin="miter"/>
<polyline points="443.00,126.20 452.00,135.20 443.00,144.20" fill="none" stroke="#383838" stroke-width="1" stroke-linejoin="miter"/>
<polyline points="453.60,126.20 462.70,135.20 453.60,144.20" fill="none" stroke="#383838" stroke-width="1" stroke-linejoin="miter"/>
<polyline points="462.70,135.20 485.50,135.20" fill="none" stroke="#383838" stroke-width="1" stroke-linejoin="miter"/>
<polyline points="485.50,53.00 495.50,53.00" fill="none" stroke="#383838" stroke-width="1" stroke-linejoin="miter"/>
<polyline points="485.50,118.80 495.50,118.80" fill="none" stroke="#383838" stroke-width="1" stroke-linejoin="miter"/>
<polyline points="495.50,53.00 495.50,118.80" fill="none" stroke="#383838" stroke-width="1" stroke-linejoin="miter"/>
<polyline points="495.50,86.50 505.60,86.50" fill="none" stroke="#383838" stroke-width="1" stroke-linejoin="miter"/>
<polyline points="505.60,65.80 505.60,104.10" fill="none" stroke="#383838" stroke-width="1" stroke-linejoin="miter"/>
<polyline points="505.60,65.80 521.80,65.80 526.80,57.00 526.80,57.00 534.80,74.60 542.80,57.00 550.80,74.60 558.90,57.00 567.00,74.60 570.30,65.80 584.50,65.80" fill="none" stroke="#383838" stroke-width="1" stroke-linejoin="miter"/>
<rect x="584.5" y="56.3" width="42.5" height="18.6" fill="none" stroke="#383838" stroke-width="1"/>
<polyline points="627.00,65.80 639.30,65.80 639.30,104.10 587.40,104.10" fill="none" stroke="#383838" stroke-width="1" stroke-linejoin="miter"/>
<polyline points="505.60,104.10 574.00,104.10" fill="none" stroke="#383838" stroke-width="1" stroke-linejoin="miter"/>
<polyline points="563.20,93.30 574.00,104.10 563.20,114.90" fill="none" stroke="#383838" stroke-width="1" stroke-linejoin="miter"/>
<polyline points="576.40,93.30 587.40,104.10 576.40,114.90" fill="none" stroke="#383838" stroke-width="1" stroke-linejoin="miter"/>
<text x="438.2" y="57.9" font-size="10.8" text-anchor="start" font-family="Liberation Sans" textLength="23.8" lengthAdjust="spacingAndGlyphs">Fluid</text>
<text x="421.7" y="123.6" font-size="10.8" text-anchor="start" font-family="Liberation Sans" textLength="63.6" lengthAdjust="spacingAndGlyphs">Grain interior</text>
<text x="533.0" y="45.1" font-size="10.8" text-anchor="start" font-family="Liberation Sans" textLength="89.9" lengthAdjust="spacingAndGlyphs">Electrode reaction</text>
<text x="538.4" y="88.7" font-size="11.8" text-anchor="start" font-family="Liberation Sans" ><tspan font-style="italic" font-size="11.8" textLength="7.6" lengthAdjust="spacingAndGlyphs">R</tspan><tspan font-size="8" dx="0.8" dy="3.3">ct</tspan></text>
<text x="598.8" y="71.3" font-size="11.8" text-anchor="start" font-family="Liberation Sans" ><tspan font-style="italic" font-size="11.8">Z</tspan><tspan font-size="8" dx="0.3" dy="3.5">W</tspan></text>
<text x="565.2" y="131.8" font-size="11.8" text-anchor="start" font-family="Liberation Sans" ><tspan font-style="italic" font-size="11.8">C</tspan><tspan font-size="8" dy="3.3">dl</tspan></text>
<rect x="64" y="179" width="75.3" height="34.5" fill="#000"/>
<rect x="62" y="177" width="75.3" height="34.5" fill="#fff" stroke="#222" stroke-width="1.3"/>
<circle cx="81.3" cy="186.8" r="2.6" fill="#000"/>
<circle cx="81.3" cy="201.3" r="2.3" fill="#fff" stroke="#555" stroke-width="0.8"/>
<text x="98.3" y="191" font-size="10.9" text-anchor="start" font-family="Liberation Sans" >1100 K</text>
<text x="98" y="205.4" font-size="10.9" text-anchor="start" font-family="Liberation Sans" >900 K</text>
<rect x="410.5" y="172" width="75.3" height="34.5" fill="#000"/>
<rect x="408.5" y="170" width="75.3" height="34.5" fill="#fff" stroke="#222" stroke-width="1.3"/>
<circle cx="427.8" cy="179.8" r="2.6" fill="#000"/>
<circle cx="427.8" cy="194.3" r="2.3" fill="#fff" stroke="#555" stroke-width="0.8"/>
<text x="444.8" y="184" font-size="10.9" text-anchor="start" font-family="Liberation Sans" >1100 K</text>
<text x="444.5" y="198.4" font-size="10.9" text-anchor="start" font-family="Liberation Sans" >900 K</text>
<text x="201" y="344.5" font-size="16.5" text-anchor="middle" font-family="Liberation Sans" textLength="66.8" lengthAdjust="spacingAndGlyphs">Z' (Ohm)</text>
<text x="543.7" y="345.2" font-size="16.5" text-anchor="middle" font-family="Liberation Sans" textLength="66" lengthAdjust="spacingAndGlyphs">Z' (Ohm)</text>
<text x="14.3" y="169" font-size="16.3" text-anchor="middle" font-family="Liberation Sans" transform="rotate(-90 14.3 169)">&#8211;Z'' (Ohm)</text>
<text x="356.4" y="169.7" font-size="16.3" text-anchor="middle" font-family="Liberation Sans" transform="rotate(-90 356.4 169.7)">&#8211;Z'' (Ohm)</text>
<text x="5.5" y="12.8" font-size="13.9" text-anchor="start" font-family="Liberation Serif" style="stroke:none;fill:#000" textLength="294.6" lengthAdjust="spacingAndGlyphs">(a) Fluid fraction:0.19; Salinity: 3 wt.% (Run A2354)</text>
<text x="372.4" y="12.2" font-size="13.9" text-anchor="start" font-family="Liberation Serif" style="stroke:none;fill:#000" textLength="305.3" lengthAdjust="spacingAndGlyphs">(b) Fluid fraction: 0.30, Salinity: 17 wt.% (Run A2341)</text>
<polyline points="54.80,300.30 55.20,296.00 56.00,290.00 57.30,283.00 60.50,272.00 67.50,256.00 84.50,237.00 98.00,229.80 114.00,221.50 151.00,220.00 182.00,232.30 197.00,244.00 203.20,251.70 209.70,262.90 214.40,275.00 218.10,288.90 219.00,296.00" fill="none" stroke="#555" stroke-width="0.95" stroke-linejoin="miter"/>
<polyline points="409.80,282.30 419.40,261.40 436.00,238.50 459.00,221.50 496.30,213.60 535.50,222.80 562.00,242.00 575.50,260.50 581.00,273.00 583.70,283.00 584.60,301.00" fill="none" stroke="#555" stroke-width="0.9" stroke-linejoin="miter"/>
<polyline points="409.80,282.30 419.40,261.40 436.50,240.00 459.00,225.00 494.80,218.00 529.50,226.50 556.00,247.00 566.00,260.00 571.00,270.00 573.00,280.00 575.50,290.00 576.20,301.00" fill="none" stroke="#555" stroke-width="0.9" stroke-linejoin="miter"/>
<circle cx="221" cy="271" r="2.45" fill="#fff" stroke="#555" stroke-width="0.85"/>
<circle cx="233.5" cy="274.5" r="2.45" fill="#fff" stroke="#555" stroke-width="0.85"/>
<circle cx="226.5" cy="278" r="2.45" fill="#fff" stroke="#555" stroke-width="0.85"/>
<circle cx="256.2" cy="254.2" r="2.45" fill="#fff" stroke="#555" stroke-width="0.85"/>
<circle cx="268.2" cy="243.1" r="2.45" fill="#fff" stroke="#555" stroke-width="0.85"/>
<circle cx="284.7" cy="231.8" r="2.45" fill="#fff" stroke="#555" stroke-width="0.85"/>
<circle cx="305.7" cy="218.3" r="2.45" fill="#fff" stroke="#555" stroke-width="0.85"/>
<circle cx="328.2" cy="200.3" r="2.45" fill="#fff" stroke="#555" stroke-width="0.85"/>
<circle cx="437" cy="241.8" r="2.45" fill="#fff" stroke="#555" stroke-width="0.85"/>
<circle cx="467.5" cy="224.7" r="2.45" fill="#fff" stroke="#555" stroke-width="0.85"/>
<circle cx="504.5" cy="221.2" r="2.45" fill="#fff" stroke="#555" stroke-width="0.85"/>
<circle cx="536.1" cy="231.4" r="2.45" fill="#fff" stroke="#555" stroke-width="0.85"/>
<circle cx="556.5" cy="247.3" r="2.45" fill="#fff" stroke="#555" stroke-width="0.85"/>
<circle cx="568.4" cy="261.2" r="2.45" fill="#fff" stroke="#555" stroke-width="0.85"/>
<circle cx="574.2" cy="271" r="2.45" fill="#fff" stroke="#555" stroke-width="0.85"/>
<circle cx="578.5" cy="276.5" r="2.45" fill="#fff" stroke="#555" stroke-width="0.85"/>
<circle cx="582" cy="278.5" r="2.45" fill="#fff" stroke="#555" stroke-width="0.85"/>
<circle cx="589" cy="275.5" r="2.45" fill="#fff" stroke="#555" stroke-width="0.85"/>
<circle cx="594" cy="272" r="2.45" fill="#fff" stroke="#555" stroke-width="0.85"/>
<circle cx="598" cy="265.6" r="2.45" fill="#fff" stroke="#555" stroke-width="0.85"/>
<circle cx="603.7" cy="256.9" r="2.45" fill="#fff" stroke="#555" stroke-width="0.85"/>
<circle cx="611.5" cy="240.9" r="2.45" fill="#fff" stroke="#555" stroke-width="0.85"/>
<circle cx="623.6" cy="216.4" r="2.45" fill="#fff" stroke="#555" stroke-width="0.85"/>
<circle cx="649.9" cy="158.3" r="2.45" fill="#fff" stroke="#555" stroke-width="0.85"/>
<circle cx="668.7" cy="139.6" r="2.45" fill="#fff" stroke="#555" stroke-width="0.85"/>
<circle cx="55.3" cy="300" r="2.8" fill="#000"/>
<circle cx="55.5" cy="298.2" r="2.8" fill="#000"/>
<circle cx="55.8" cy="296.3" r="2.8" fill="#000"/>
<circle cx="56" cy="294.4" r="2.8" fill="#000"/>
<circle cx="56.3" cy="292.5" r="2.8" fill="#000"/>
<circle cx="56.5" cy="290.6" r="2.8" fill="#000"/>
<circle cx="56.7" cy="288.6" r="2.8" fill="#000"/>
<circle cx="58.3" cy="281.4" r="2.8" fill="#000"/>
<circle cx="61.7" cy="271.6" r="2.8" fill="#000"/>
<circle cx="69.4" cy="257.1" r="2.8" fill="#000"/>
<circle cx="85.4" cy="239.8" r="2.8" fill="#000"/>
<circle cx="111.9" cy="225.1" r="2.8" fill="#000"/>
<circle cx="146.8" cy="221.3" r="2.8" fill="#000"/>
<circle cx="177.5" cy="230.1" r="2.8" fill="#000"/>
<circle cx="199.6" cy="245.1" r="2.8" fill="#000"/>
<circle cx="211.6" cy="259.1" r="2.8" fill="#000"/>
<circle cx="213.8" cy="268.5" r="2.8" fill="#000"/>
<circle cx="222.8" cy="275.5" r="2.8" fill="#000"/>
<circle cx="227" cy="277.2" r="2.8" fill="#000"/>
<circle cx="231.1" cy="279.7" r="2.8" fill="#000"/>
<circle cx="235.5" cy="276.2" r="2.8" fill="#000"/>
<circle cx="240.2" cy="271.2" r="2.8" fill="#000"/>
<circle cx="245.8" cy="265.8" r="2.8" fill="#000"/>
<circle cx="254.1" cy="259.3" r="2.8" fill="#000"/>
<circle cx="264.2" cy="250.6" r="2.8" fill="#000"/>
<circle cx="277.2" cy="241.9" r="2.8" fill="#000"/>
<circle cx="295.4" cy="231.1" r="2.8" fill="#000"/>
<circle cx="310.6" cy="223.2" r="2.8" fill="#000"/>
<circle cx="409.8" cy="282.3" r="2.8" fill="#000"/>
<circle cx="419.4" cy="261.4" r="2.8" fill="#000"/>
<circle cx="436.2" cy="238.9" r="2.8" fill="#000"/>
<circle cx="467.4" cy="220.3" r="2.8" fill="#000"/>
<circle cx="506.6" cy="215.9" r="2.8" fill="#000"/>
<circle cx="541.4" cy="227.1" r="2.8" fill="#000"/>
<circle cx="565" cy="244.7" r="2.8" fill="#000"/>
<circle cx="577.1" cy="261.6" r="2.8" fill="#000"/>
<circle cx="583.2" cy="274.4" r="2.8" fill="#000"/>
<circle cx="586.5" cy="283" r="2.8" fill="#000"/>
<circle cx="588.2" cy="288.7" r="2.8" fill="#000"/>
<circle cx="589.8" cy="292.3" r="2.8" fill="#000"/>
<circle cx="591.5" cy="294.8" r="2.8" fill="#000"/>
<circle cx="593.6" cy="294" r="2.8" fill="#000"/>
<circle cx="595.7" cy="291.4" r="2.8" fill="#000"/>
<circle cx="598.2" cy="287.6" r="2.8" fill="#000"/>
<circle cx="602" cy="281.5" r="2.8" fill="#000"/>
<circle cx="608.6" cy="272.3" r="2.8" fill="#000"/>
<circle cx="620.2" cy="258.2" r="2.8" fill="#000"/>
<circle cx="641.5" cy="234.8" r="2.8" fill="#000"/>
</svg>
</body></html>
